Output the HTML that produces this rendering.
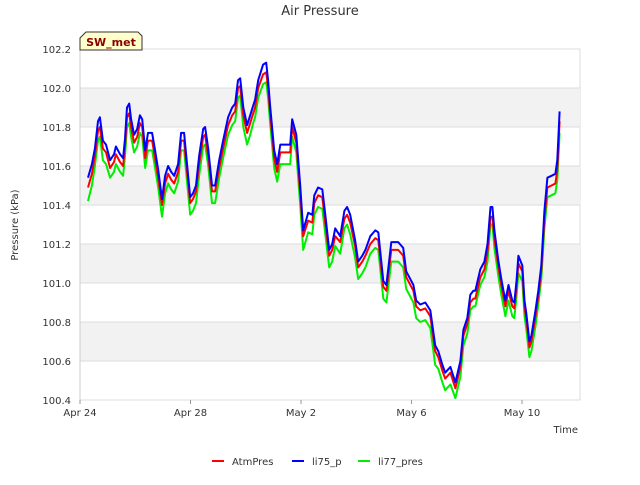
<!DOCTYPE html>
<html><head><meta charset="utf-8"><style>
body{margin:0;background:#fff;font-family:"Liberation Sans",sans-serif}
svg text{font-family:"DejaVu Sans","Liberation Sans",sans-serif}
</style></head><body>
<svg id="c" width="640" height="480" xmlns="http://www.w3.org/2000/svg">
<text x="320" y="15" text-anchor="middle" font-size="13" fill="#333">Air Pressure</text>
<g id="plot"></g>
<text transform="translate(18,225) rotate(-90)" text-anchor="middle" font-size="10" fill="#333">Pressure (kPa)</text>
<text x="578" y="433" text-anchor="end" font-size="10" fill="#333">Time</text>
<g>
<path d="M86,32 L138,32 L142,36 L142,50 L80,50 L80,38 Z" fill="#ffffcc" stroke="#333" stroke-width="1"/>
<text x="111" y="46" text-anchor="middle" font-size="11" font-weight="bold" fill="#8b0000">SW_met</text>
</g>
<g>
<g><line x1="212" y1="461" x2="224" y2="461" stroke="#ff0000" stroke-width="2"/><text x="232" y="465" font-size="10" fill="#333">AtmPres</text></g>
<g><line x1="292" y1="461" x2="304" y2="461" stroke="#0000ff" stroke-width="2"/><text x="312" y="465" font-size="10" fill="#333">li75_p</text></g>
<g><line x1="358" y1="461" x2="370" y2="461" stroke="#00ee00" stroke-width="2"/><text x="378" y="465" font-size="10" fill="#333">li77_pres</text></g>
</g>
</svg>
<script>
const days=[0.29,0.43,0.54,0.65,0.72,0.83,0.94,1.09,1.23,1.30,1.45,1.56,1.63,1.70,1.78,1.85,1.96,2.07,2.17,2.25,2.36,2.46,2.61,2.72,2.83,2.97,3.08,3.19,3.30,3.41,3.55,3.66,3.77,3.84,3.99,4.09,4.20,4.31,4.46,4.53,4.64,4.78,4.89,5.04,5.18,5.36,5.51,5.62,5.72,5.80,5.91,6.05,6.16,6.27,6.34,6.45,6.63,6.74,6.81,6.88,7.03,7.14,7.25,7.36,7.50,7.61,7.68,7.83,7.97,8.08,8.26,8.41,8.48,8.62,8.77,8.88,9.02,9.13,9.24,9.42,9.57,9.67,9.78,9.96,10.07,10.22,10.33,10.51,10.69,10.80,10.98,11.09,11.27,11.41,11.52,11.70,11.81,11.92,12.07,12.17,12.32,12.50,12.68,12.86,12.97,13.12,13.22,13.41,13.59,13.77,13.88,14.02,14.13,14.24,14.31,14.49,14.64,14.75,14.86,14.93,15.00,15.14,15.25,15.33,15.40,15.51,15.65,15.72,15.80,15.87,16.01,16.09,16.16,16.27,16.34,16.49,16.59,16.70,16.81,16.92,17.07,17.21,17.28,17.36];
const li75=[101.54,101.61,101.69,101.83,101.85,101.73,101.71,101.63,101.66,101.70,101.66,101.64,101.74,101.90,101.92,101.84,101.76,101.79,101.86,101.84,101.68,101.77,101.77,101.68,101.58,101.43,101.55,101.60,101.57,101.55,101.61,101.77,101.77,101.66,101.44,101.46,101.50,101.65,101.79,101.80,101.69,101.50,101.50,101.63,101.73,101.85,101.90,101.92,102.04,102.05,101.90,101.81,101.86,101.91,101.94,102.04,102.12,102.13,102.04,101.91,101.68,101.61,101.71,101.71,101.71,101.71,101.84,101.76,101.50,101.27,101.36,101.35,101.45,101.49,101.48,101.35,101.17,101.20,101.28,101.24,101.37,101.39,101.35,101.22,101.11,101.14,101.17,101.24,101.27,101.26,101.01,100.99,101.21,101.21,101.21,101.18,101.06,101.03,100.99,100.91,100.89,100.90,100.86,100.68,100.65,100.58,100.54,100.57,100.49,100.60,100.76,100.82,100.94,100.96,100.96,101.07,101.11,101.20,101.39,101.39,101.27,101.12,101.02,100.96,100.91,100.99,100.91,100.90,101.01,101.14,101.09,100.91,100.84,100.70,100.73,100.86,100.96,101.09,101.37,101.54,101.55,101.56,101.63,101.88];
const atm=[101.49,101.56,101.65,101.78,101.80,101.69,101.67,101.59,101.62,101.66,101.62,101.60,101.70,101.85,101.87,101.80,101.72,101.75,101.82,101.80,101.64,101.73,101.73,101.64,101.54,101.40,101.51,101.56,101.53,101.51,101.57,101.73,101.73,101.62,101.41,101.43,101.47,101.61,101.75,101.76,101.65,101.47,101.47,101.59,101.69,101.81,101.86,101.88,102.00,102.01,101.86,101.77,101.82,101.87,101.90,102.00,102.07,102.08,102.00,101.87,101.64,101.57,101.67,101.67,101.67,101.67,101.80,101.72,101.46,101.24,101.32,101.31,101.41,101.45,101.44,101.31,101.14,101.17,101.24,101.21,101.33,101.35,101.31,101.19,101.08,101.11,101.14,101.20,101.23,101.22,100.98,100.96,101.17,101.17,101.17,101.14,101.03,101.00,100.96,100.88,100.86,100.87,100.83,100.65,100.62,100.55,100.51,100.54,100.46,100.57,100.73,100.79,100.90,100.92,100.92,101.03,101.07,101.16,101.34,101.34,101.23,101.09,100.99,100.93,100.88,100.96,100.88,100.87,100.98,101.10,101.06,100.88,100.81,100.67,100.70,100.83,100.93,101.06,101.33,101.49,101.50,101.51,101.58,101.83];
const li77=[101.42,101.50,101.60,101.73,101.75,101.63,101.61,101.54,101.57,101.61,101.57,101.55,101.65,101.80,101.82,101.75,101.67,101.70,101.77,101.75,101.59,101.68,101.68,101.59,101.49,101.34,101.46,101.51,101.48,101.46,101.52,101.68,101.68,101.57,101.35,101.37,101.41,101.55,101.70,101.71,101.60,101.41,101.41,101.54,101.64,101.76,101.81,101.83,101.95,101.96,101.80,101.71,101.76,101.82,101.85,101.95,102.02,102.03,101.95,101.82,101.59,101.52,101.61,101.61,101.61,101.61,101.75,101.67,101.40,101.17,101.26,101.25,101.35,101.39,101.38,101.25,101.08,101.11,101.19,101.15,101.28,101.30,101.25,101.13,101.02,101.05,101.08,101.15,101.18,101.17,100.92,100.90,101.11,101.11,101.11,101.08,100.97,100.94,100.90,100.82,100.80,100.81,100.77,100.58,100.56,100.49,100.45,100.48,100.41,100.52,100.68,100.74,100.86,100.88,100.88,100.99,101.03,101.11,101.30,101.30,101.18,101.04,100.94,100.88,100.83,100.91,100.83,100.82,100.93,101.05,101.01,100.83,100.76,100.62,100.65,100.78,100.89,101.02,101.28,101.44,101.45,101.46,101.53,101.77];
const yTicks=[100.4,100.6,100.8,101.0,101.2,101.4,101.6,101.8,102.0,102.2];
const xTickDays=[0,4,8,12,16];
const xTickLabels=["Apr 24","Apr 28","May 2","May 6","May 10"];

const NS="http://www.w3.org/2000/svg";
const L=80,R=580,T=49,B=400,yMin=100.4,yMax=102.2,dMin=0,dMax=18.1;
const xs=d=>L+(d-dMin)/(dMax-dMin)*(R-L);
const ys=v=>B-(v-yMin)/(yMax-yMin)*(B-T);
const plot=document.getElementById('plot');
function mk(tag,attrs,parent){const e=document.createElementNS(NS,tag);for(const k in attrs)e.setAttribute(k,attrs[k]);(parent||plot).appendChild(e);return e;}
mk('rect',{x:L,y:T,width:R-L,height:B-T,fill:'#fff',stroke:'#ddd'});
for(let i=0;i<yTicks.length-1;i++){
  if(i%2===1){const r=mk('rect',{x:L,y:ys(yTicks[i+1]),width:R-L,height:ys(yTicks[i])-ys(yTicks[i+1]),fill:'#f2f2f2'});
  
  }
}
yTicks.forEach(v=>{
  const g=mk('line',{x1:L,x2:R,y1:ys(v),y2:ys(v),stroke:'#dcdcdc','stroke-width':1});
  
  
  const t=mk('text',{x:L-9,y:ys(v)+4,'text-anchor':'end','font-size':10,fill:'#333'});
  t.textContent=v.toFixed(1);
  
  
});
mk('line',{x1:L,x2:L,y1:T,y2:B,stroke:'#ccc'});
xTickDays.forEach((d,i)=>{
  mk('line',{x1:xs(d),x2:xs(d),y1:B,y2:B+4,stroke:'#999'});
  const t=mk('text',{x:xs(d),y:B+16,'text-anchor':'middle','font-size':10,fill:'#333'});
  t.textContent=xTickLabels[i];
  
  
});
function line(vals,color,name){
  const p=mk('path',{d:vals.map((v,i)=>(i?'L':'M')+xs(days[i]).toFixed(1)+','+ys(v).toFixed(1)).join(''),fill:'none',stroke:color,'stroke-width':2,'stroke-linejoin':'round'});
  
  
}
line(li77,'#00ee00','series-li77-pres');
line(atm,'#ff0000','series-atmpres');
line(li75,'#0000ff','series-li75-p');
</script>
</body></html>
